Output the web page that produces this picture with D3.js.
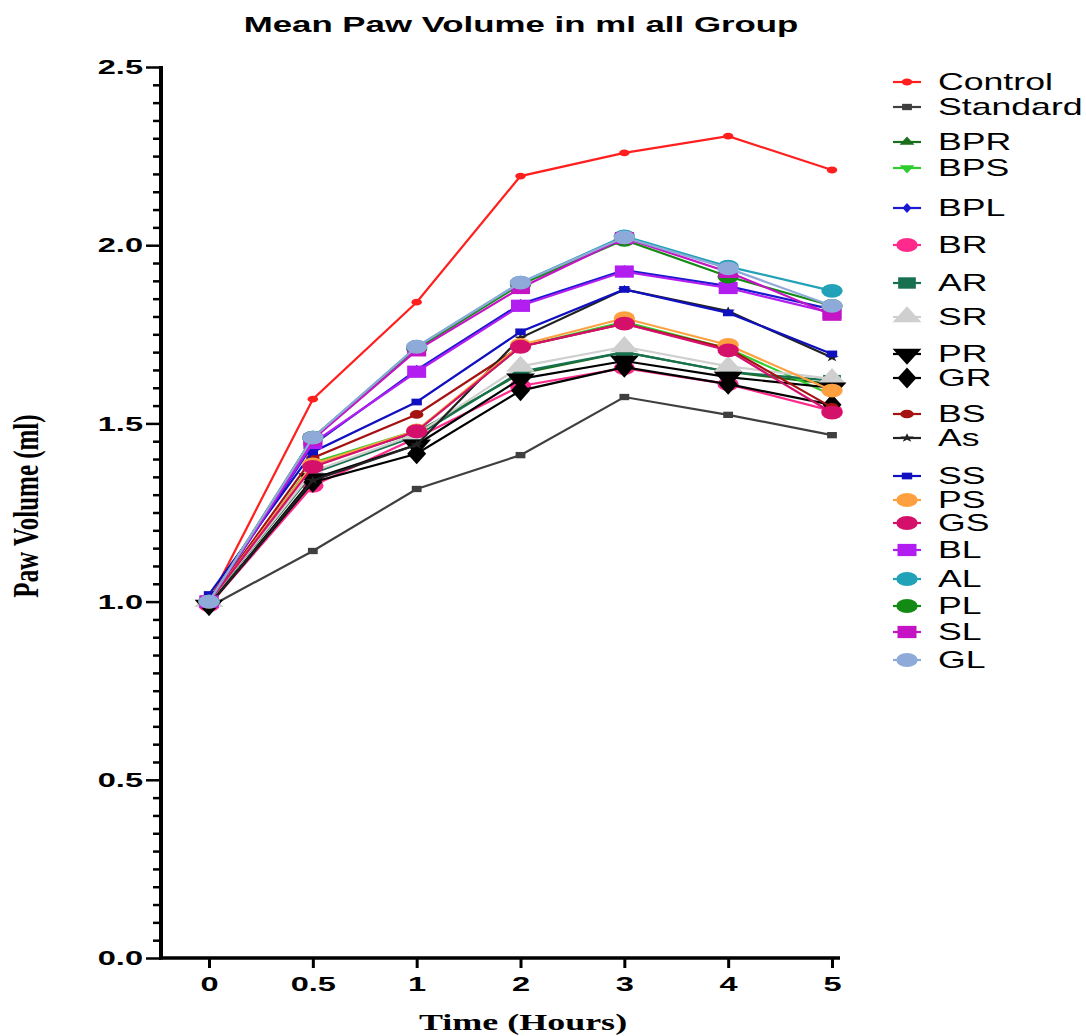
<!DOCTYPE html>
<html>
<head>
<meta charset="utf-8">
<script src="https://cdn.jsdelivr.net/npm/d3@7"></script>
<style>
  body { margin: 0; background: #fff; }
</style>
</head>
<body>
<div id="chart"></div>
<script>
// Time points (categorical x axis)
const timeLabels = ["0", "0.5", "1", "2", "3", "4", "5"];

// Group names in legend order
const groupNames = ["Control", "Standard", "BPR", "BPS", "BPL", "BR", "AR", "SR", "PR", "GR",
                    "BS", "As", "SS", "PS", "GS", "BL", "AL", "PL", "SL", "GL"];

// Mean paw volume (ml) for each group, one value per time point
const control  = [1.00, 1.568, 1.84, 2.194, 2.259, 2.306, 2.211];
const standard = [0.985, 1.142, 1.316, 1.411, 1.574, 1.524, 1.467];
const bpr      = [0.99, 1.385, 1.475, 1.64, 1.70, 1.645, 1.61];
const bps      = [0.99, 1.39, 1.48, 1.715, 1.785, 1.71, 1.58];
const bpl      = [1.00, 1.44, 1.65, 1.835, 1.93, 1.885, 1.82];
const br       = [0.99, 1.325, 1.46, 1.605, 1.655, 1.61, 1.535];
const ar       = [1.00, 1.36, 1.465, 1.645, 1.70, 1.645, 1.62];
const sr       = [1.00, 1.365, 1.47, 1.66, 1.715, 1.66, 1.625];
const pr       = [0.99, 1.345, 1.44, 1.625, 1.675, 1.63, 1.60];
const gr       = [0.99, 1.335, 1.415, 1.592, 1.658, 1.61, 1.552];
const bs       = [1.00, 1.403, 1.525, 1.715, 1.78, 1.71, 1.545];
const as       = [0.99, 1.34, 1.44, 1.74, 1.876, 1.815, 1.685];
const ss       = [1.02, 1.42, 1.56, 1.757, 1.876, 1.81, 1.695];
const ps       = [1.00, 1.385, 1.48, 1.72, 1.795, 1.72, 1.592];
const gs       = [1.00, 1.378, 1.478, 1.715, 1.78, 1.705, 1.53];
const bl       = [1.00, 1.445, 1.645, 1.83, 1.926, 1.88, 1.81];
const al       = [1.00, 1.46, 1.715, 1.895, 2.025, 1.94, 1.872];
const pl       = [1.00, 1.46, 1.71, 1.89, 2.015, 1.912, 1.83];
const sl       = [1.00, 1.455, 1.705, 1.88, 2.02, 1.925, 1.805];
const gl       = [1.00, 1.46, 1.715, 1.895, 2.022, 1.935, 1.83];

const groupValues = [control, standard, bpr, bps, bpl, br, ar, sr, pr, gr,
                     bs, as, ss, ps, gs, bl, al, pl, sl, gl];

// Y tick labels
const yTicks = [0, 0.5, 1.0, 1.5, 2.0, 2.5];

// Styles for each group: colour, marker shape, marker area
const styles = [
  {color: "#ff1f1f", shape: "circle",   size: 36},
  {color: "#3f3f3f", shape: "square",   size: 40},
  {color: "#1b6e1b", shape: "triangle", size: 40},
  {color: "#2ecc2e", shape: "tridown",  size: 40},
  {color: "#1a1ad0", shape: "diamond",  size: 30},
  {color: "#ff2a8c", shape: "circle",   size: 150},
  {color: "#17704f", shape: "square",   size: 130},
  {color: "#cfcfcf", shape: "triangle", size: 150},
  {color: "#000000", shape: "tridown",  size: 150},
  {color: "#000000", shape: "diamond",  size: 130},
  {color: "#a51212", shape: "circle",   size: 60},
  {color: "#222222", shape: "star",     size: 25},
  {color: "#1010c0", shape: "square",   size: 45},
  {color: "#ffa040", shape: "circle",   size: 150},
  {color: "#d4106a", shape: "circle",   size: 150},
  {color: "#b21ef0", shape: "square",   size: 150},
  {color: "#22a2b8", shape: "circle",   size: 150},
  {color: "#138a13", shape: "circle",   size: 150},
  {color: "#c414c4", shape: "square",   size: 150},
  {color: "#8eaad8", shape: "circle",   size: 150}
];

// Legend vertical positions (irregular like the original)
const legendY = [82, 107, 142, 168, 208, 245, 283, 317, 354, 378,
                 414, 438, 476, 500, 523, 550, 579, 606, 632, 660];

const W = 1086, H = 1036;
const sx = 1.55;   // the original image is stretched horizontally
const plot = {left: 161, right: 840, top: 67, bottom: 958};

const svg = d3.select("#chart")
  .append("svg")
    .attr("width", W)
    .attr("height", H);

const x = d3.scalePoint()
  .domain(timeLabels)
  .range([209, 832]);

const y = d3.scaleLinear()
  .domain([0, 2.5])
  .range([plot.bottom, plot.top]);

const shapeOf = s => ({
  circle: d3.symbolCircle, square: d3.symbolSquare, triangle: d3.symbolTriangle,
  tridown: d3.symbolTriangle, diamond: d3.symbolDiamond, star: d3.symbolStar
})[s];

function markerPath(st) {
  return d3.symbol().type(shapeOf(st.shape)).size(st.size)();
}
function markerTransform(st, px, py) {
  return `translate(${px},${py}) scale(${sx},1)` + (st.shape === "tridown" ? " rotate(180)" : "");
}

// Y axis: minor ticks
const minor = d3.range(0, 51).map(i => i * 0.05).filter(v => Math.round(v * 100) % 50 !== 0);
svg.append("g")
  .attr("transform", `translate(${plot.left},0)`)
  .call(d3.axisLeft(y).tickValues(minor).tickSize(8).tickFormat(""))
  .call(g => g.select(".domain").remove())
  .call(g => g.selectAll("line").attr("stroke", "#000").attr("stroke-width", 2.5));

// Y axis: major ticks
const yAxis = svg.append("g")
  .attr("transform", `translate(${plot.left},0)`)
  .call(d3.axisLeft(y).tickValues(yTicks).tickSize(15).tickFormat(d3.format(".1f")))
  .call(g => g.select(".domain").remove());
yAxis.selectAll("line").attr("stroke", "#000").attr("stroke-width", 2.5);
yAxis.selectAll("text")
  .attr("x", -18 / sx)
  .attr("transform", `scale(${sx},1)`)
  .style("font-family", "'Liberation Sans', Arial, sans-serif")
  .style("font-weight", "bold")
  .style("font-size", "21px")
  .attr("fill", "#000");

// X axis
const xAxis = svg.append("g")
  .attr("transform", `translate(0,${plot.bottom})`)
  .call(d3.axisBottom(x).tickSize(10).tickPadding(8))
  .call(g => g.select(".domain").remove());
xAxis.selectAll("line").attr("stroke", "#000").attr("stroke-width", 3);
xAxis.selectAll("text")
  .attr("transform", `scale(${sx},1)`)
  .style("font-family", "'Liberation Sans', Arial, sans-serif")
  .style("font-weight", "bold")
  .style("font-size", "21px")
  .attr("fill", "#000");

// Axis lines
svg.append("line")
  .attr("x1", plot.left).attr("x2", plot.left)
  .attr("y1", plot.top - 1).attr("y2", plot.bottom + 1.5)
  .attr("stroke", "#000").attr("stroke-width", 4);
svg.append("line")
  .attr("x1", plot.left - 2).attr("x2", plot.right)
  .attr("y1", plot.bottom).attr("y2", plot.bottom)
  .attr("stroke", "#000").attr("stroke-width", 3.5);

// Lines and markers
const line = d3.line()
  .x((d, i) => x(timeLabels[i]))
  .y(d => y(d));

groupValues.forEach((vals, gi) => {
  const st = styles[gi];
  svg.append("path")
    .datum(vals)
    .attr("fill", "none")
    .attr("stroke", st.color)
    .attr("stroke-width", 2.2)
    .attr("d", line);
  svg.selectAll(null)
    .data(vals)
    .join("path")
      .attr("d", markerPath(st))
      .attr("transform", (d, i) => markerTransform(st, x(timeLabels[i]), y(d)))
      .attr("fill", st.color);
});

// Legend
groupNames.forEach((name, gi) => {
  const st = styles[gi];
  const ly = legendY[gi];
  svg.append("line")
    .attr("x1", 893).attr("x2", 921)
    .attr("y1", ly).attr("y2", ly)
    .attr("stroke", st.color).attr("stroke-width", 2.2);
  svg.append("path")
    .attr("d", markerPath(st))
    .attr("transform", markerTransform(st, 907, ly))
    .attr("fill", st.color);
  svg.append("text")
    .attr("transform", `translate(938,${ly}) scale(${sx},1)`)
    .attr("dy", "0.36em")
    .style("font-family", "'Liberation Sans', Arial, sans-serif")
    .style("font-size", "23px")
    .attr("fill", "#000")
    .text(name);
});

// Title
svg.append("text")
  .attr("transform", `translate(521,32) scale(1.62,1)`)
  .attr("text-anchor", "middle")
  .style("font-family", "'Liberation Sans', Arial, sans-serif")
  .style("font-weight", "bold")
  .style("font-size", "21.5px")
  .text("Mean Paw Volume in ml all Group");

// X axis label
svg.append("text")
  .attr("transform", `translate(523,1030) scale(1.5,1)`)
  .attr("text-anchor", "middle")
  .style("font-family", "'Liberation Serif', 'Times New Roman', serif")
  .style("font-weight", "bold")
  .style("font-size", "24px")
  .text("Time (Hours)");

// Y axis label
svg.append("text")
  .attr("transform", `translate(38,506) scale(1.4,1) rotate(-90)`)
  .attr("text-anchor", "middle")
  .style("font-family", "'Liberation Serif', 'Times New Roman', serif")
  .style("font-weight", "bold")
  .style("font-size", "25px")
  .text("Paw Volume (ml)");
</script>
</body>
</html>
